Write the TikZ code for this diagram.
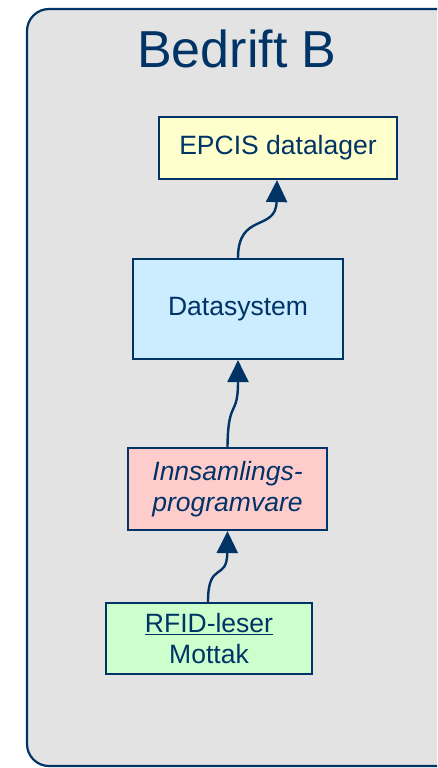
\documentclass[tikz,border=0pt]{standalone}
\usepackage{fontspec}
\setmainfont{Liberation Sans}
\usetikzlibrary{arrows.meta}
\definecolor{navy}{RGB}{0,51,102}
\definecolor{outerfill}{RGB}{227,227,227}
\definecolor{yel}{RGB}{255,255,204}
\definecolor{blu}{RGB}{204,236,255}
\definecolor{pnk}{RGB}{255,204,204}
\definecolor{grn}{RGB}{204,255,204}
\tikzset{
  box/.style={draw=navy, line width=2.2pt, text=navy, font=\fontsize{26.5}{31}\selectfont, align=center, inner sep=0pt},
  link/.style={draw=navy, line width=2.4pt, -{Triangle[length=22pt,width=21pt]}}
}
\begin{document}
\begin{tikzpicture}[x=1pt,y=-1pt]
\useasboundingbox (0,0) rectangle (437,768);
\begin{scope}
\clip (0,0) rectangle (437,768);
\draw[draw=navy, fill=outerfill, line width=2.2pt, rounded corners=22pt] (27,9) rectangle (460,766);
\end{scope}
\node[text=navy, font=\fontsize{52}{58}\selectfont, anchor=base] (title) at (237,67) {Bedrift B};
\node[box, fill=yel, minimum width=238pt, minimum height=62pt] (epcis) at (278,148) {EPCIS datalager};
\node[box, fill=blu, minimum width=210pt, minimum height=100pt] (data) at (238,309) {Datasystem};
\node[box, fill=pnk, minimum width=199pt, minimum height=82pt, font=\fontsize{26.5}{31}\selectfont\itshape] (inns) at (227.5,489) {Innsamlings-\\programvare};
\node[box, fill=grn, minimum width=206pt, minimum height=71pt] (rfid) at (209,638.5) {\underline{RFID-leser}\\Mottak};
\draw[link] (data.north) .. controls (238,212) and (276,232) .. (epcis.south -| 277,0);
\draw[link] (inns.north) .. controls (228,398) and (238,418) .. (data.south);
\draw[link] (rfid.north -| 208,0) .. controls (208,560) and (227,582) .. (inns.south);
\end{tikzpicture}
\end{document}
